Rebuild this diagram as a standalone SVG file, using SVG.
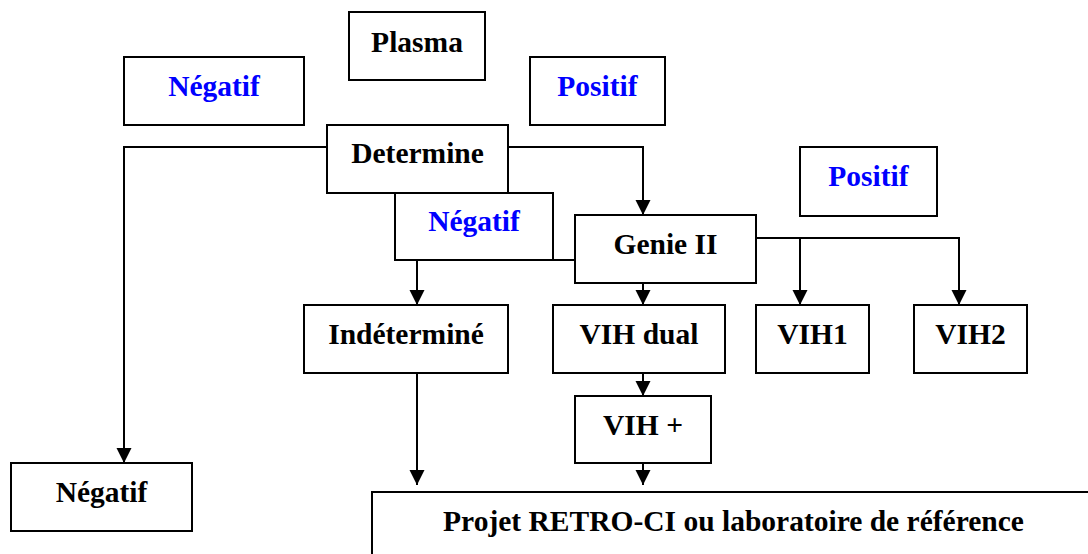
<svg xmlns="http://www.w3.org/2000/svg" width="1088" height="554" viewBox="0 0 1088 554">
<style>
rect{fill:#fff;stroke:#000;stroke-width:2}
text{font-family:"Liberation Serif","Times New Roman",serif;font-weight:bold;font-size:29.5px;text-anchor:middle;fill:#000}
text.b{fill:#0000ff}
.c path{fill:none;stroke:#000;stroke-width:2}
</style>
<defs>
<marker id="a" markerUnits="userSpaceOnUse" markerWidth="16" markerHeight="16" viewBox="0 0 16 16" refX="15" refY="8" orient="auto">
<path d="M0,0.5 L15,8 L0,15.5 Z" fill="#000"/>
</marker>
</defs>
<g class="c">
<path d="M327,147 H124 V463" marker-end="url(#a)"/>
<path d="M508,147 H643 V215" marker-end="url(#a)"/>
<path d="M575,260 H417 V305" marker-end="url(#a)"/>
<path d="M643,283 V305" marker-end="url(#a)"/>
<path d="M756,238 H959 V305" marker-end="url(#a)"/>
<path d="M800,238 V305" marker-end="url(#a)"/>
<path d="M643,373 V396" marker-end="url(#a)"/>
<path d="M643,463 V485" marker-end="url(#a)"/>
<path d="M417,373 V485" marker-end="url(#a)"/>
</g>
<g id="plasma"><rect x="349" y="12" width="136" height="68"/><text x="417" y="52">Plasma</text></g>
<g id="negatif-top"><rect x="124" y="57" width="180" height="68"/><text class="b" x="214" y="96">Négatif</text></g>
<g id="positif-top"><rect x="530" y="57" width="135" height="68"/><text class="b" x="597.5" y="96">Positif</text></g>
<g id="determine"><rect x="327" y="125" width="181" height="68"/><text x="417.5" y="163">Determine</text></g>
<g id="negatif-mid"><rect x="395" y="193" width="158" height="67"/><text class="b" x="474" y="231">Négatif</text></g>
<g id="positif-right"><rect x="800" y="147" width="137" height="69"/><text class="b" x="868.5" y="186">Positif</text></g>
<g id="genie"><rect x="575" y="215" width="181" height="68"/><text x="665.5" y="254">Genie II</text></g>
<g id="indetermine"><rect x="304" y="305" width="204" height="68"/><text x="406" y="344">Indéterminé</text></g>
<g id="vih-dual"><rect x="553" y="305" width="172" height="68"/><text x="639" y="344">VIH dual</text></g>
<g id="vih1"><rect x="756" y="305" width="113" height="68"/><text x="812.5" y="344">VIH1</text></g>
<g id="vih2"><rect x="914" y="305" width="113" height="68"/><text x="970.5" y="344">VIH2</text></g>
<g id="vih-plus"><rect x="575" y="396" width="136" height="67"/><text x="643" y="435">VIH +</text></g>
<g id="negatif-bottom"><rect x="11" y="463" width="181" height="68"/><text x="101.5" y="502">Négatif</text></g>
<g id="projet"><rect x="372" y="492" width="723" height="80"/><text x="733.5" y="531">Projet RETRO-CI ou laboratoire de référence</text></g>
</svg>
